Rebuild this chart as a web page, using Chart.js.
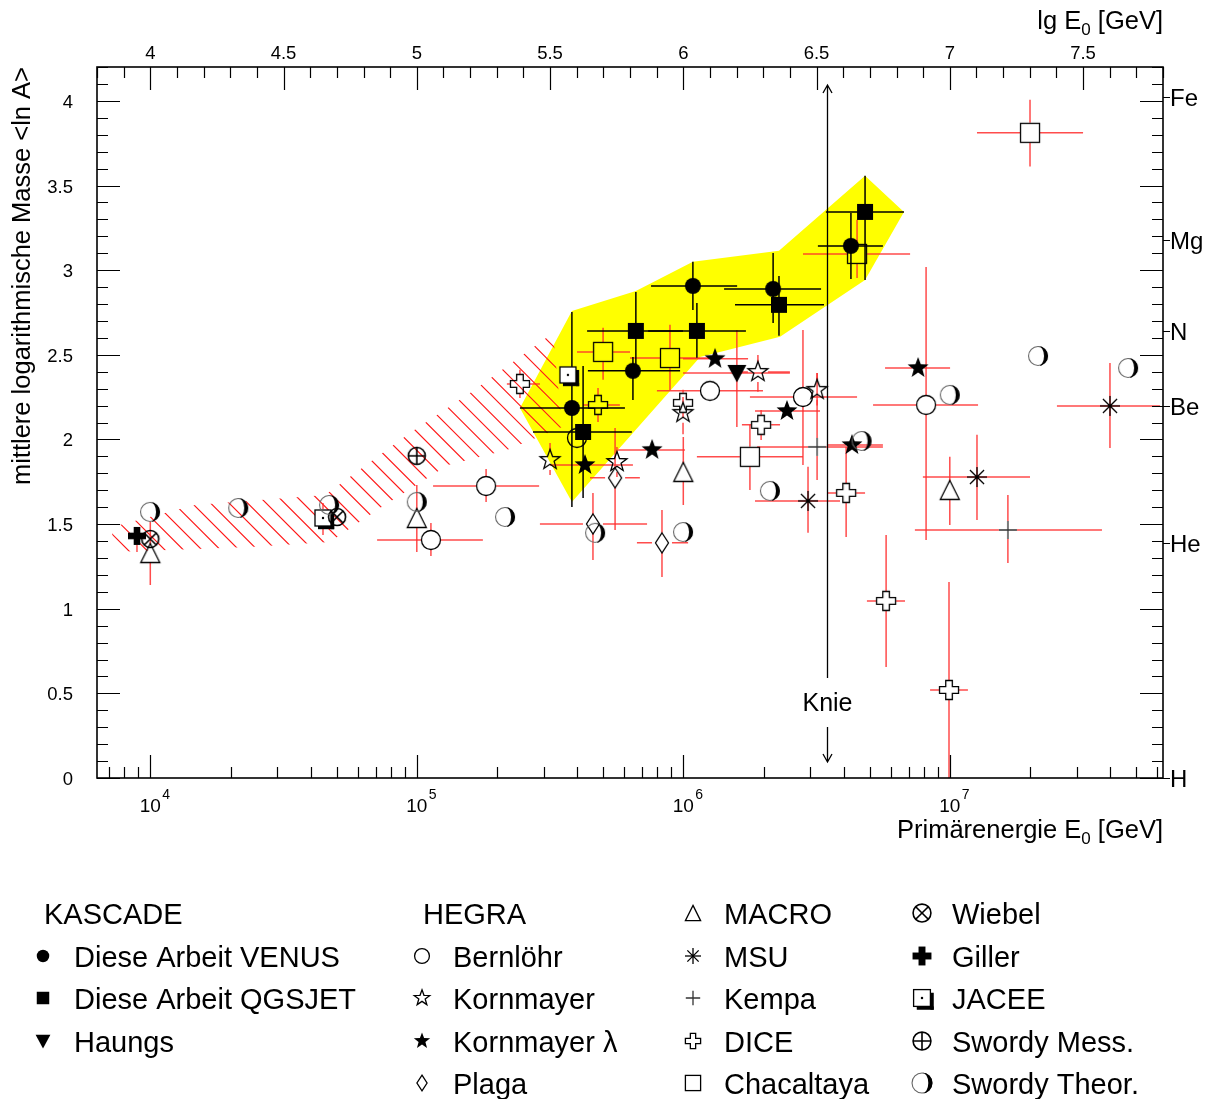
<!DOCTYPE html>
<html>
<head>
<meta charset="utf-8">
<script src="https://cdn.jsdelivr.net/npm/chart.js@4.4.1/dist/chart.umd.min.js"></script>
<style>
  html, body { margin: 0; padding: 0; background: #fff; }
  #wrap { width: 1208px; height: 1099px; }
</style>
</head>
<body>
<div id="wrap"><canvas id="c" width="1208" height="1099"></canvas></div>
<script>
// Axis ranges: lg(E0/GeV) horizontally, mean logarithmic mass <ln A> vertically
const lgRange = [3.8, 7.8];
const lnARange = [0, 4.2];
const lgTicks = [4, 4.5, 5, 5.5, 6, 6.5, 7, 7.5];
const lnATicks = [0, 0.5, 1, 1.5, 2, 2.5, 3, 3.5, 4];
const decadeTicks = [4, 5, 6, 7];
const elementNames = ['H', 'He', 'Be', 'N', 'Mg', 'Fe'];
const elementMasses = [1, 4, 9, 14, 24, 56];
const kneeLg = 6.54;

// Rows: [lg E0, <ln A>, lg E0 low, lg E0 high, <ln A> low, <ln A> high]
const venus = [
  [5.582, 2.186, 5.387, 5.781, 1.601, 2.753],
  [5.811, 2.405, 5.642, 5.988, 2.233, 2.487],
  [6.036, 2.907, 5.879, 6.202, 2.765, 3.049],
  [6.337, 2.889, 6.153, 6.517, 2.688, 3.102],
  [6.629, 3.143, 6.505, 6.749, 2.948, 3.338]
];
const qgsjet = [
  [5.624, 2.044, 5.436, 5.807, 1.654, 2.434],
  [5.822, 2.641, 5.639, 5.999, 2.399, 2.871],
  [6.051, 2.641, 5.868, 6.235, 2.482, 2.806],
  [6.359, 2.795, 6.194, 6.528, 2.612, 2.966],
  [6.682, 3.344, 6.535, 6.828, 2.942, 3.557]
];
const haungs = [
  [6.201, 2.393, 5.999, 6.400, 2.074, 2.647]
];
const bernloehr = [
  [5.601, 2.009, null, null, null, null],
  [5.053, 1.406, 4.851, 5.248, 1.312, 1.507],
  [5.260, 1.725, 5.061, 5.459, 1.631, 1.826],
  [6.100, 2.287, 5.901, 6.299, null, null],
  [6.449, 2.251, 6.250, 6.652, 1.849, 2.647],
  [6.911, 2.204, 6.712, 7.106, 1.406, 3.019]
];
const kornmayer = [
  [5.500, 1.879, null, null, 1.790, 1.979],
  [5.751, 1.867, null, null, 1.778, 1.956],
  [5.999, 2.157, null, null, 2.030, 2.250],
  [6.280, 2.399, 6.194, 6.400, 2.281, 2.499],
  [6.502, 2.293, null, null, 2.200, 2.393]
];
const kornmayerLambda = [
  [5.631, 1.849, 5.500, 5.811, null, null],
  [5.883, 1.938, 5.755, 6.006, null, null],
  [6.119, 2.476, 5.999, 6.243, null, null],
  [6.389, 2.168, 6.269, 6.513, null, null],
  [6.633, 1.967, 6.539, 6.749, null, null],
  [6.881, 2.422, 6.757, 7.001, null, null]
];
const plaga = [
  [5.661, 1.501, 5.462, 5.864, 1.288, 1.684],
  [5.744, 1.773, 5.650, 5.837, 1.465, 2.068],
  [5.920, 1.389, 5.826, 6.018, 1.188, 1.583]
];
const macro = [
  [4.000, 1.329, null, null, 1.140, 1.513],
  [5.000, 1.536, null, null, 1.335, 1.731],
  [6.000, 1.808, null, null, 1.613, 2.015],
  [7.000, 1.702, null, null, 1.495, 1.897]
];
const msu = [
  [6.468, 1.637, 6.269, 6.588, 1.448, 1.838],
  [7.102, 1.778, 6.899, 7.301, 1.524, 2.027],
  [7.601, 2.198, 7.402, 7.789, 1.950, 2.452]
];
const kempa = [
  [6.502, 1.956, 6.277, 6.749, 1.761, 2.393],
  [7.218, 1.465, 6.869, 7.571, 1.270, 1.672]
];
const dice = [
  [5.387, 2.328, 5.338, 5.462, 2.245, 2.411],
  [5.680, 2.204, 5.624, 5.762, 2.103, 2.304],
  [5.999, 2.216, null, null, 2.127, 2.293],
  [6.292, 2.086, 6.220, 6.363, 1.997, 2.174],
  [6.611, 1.684, 6.543, 6.682, 1.424, 1.956],
  [6.761, 1.046, 6.689, 6.832, 0.656, 1.436],
  [6.997, 0.520, 6.926, 7.068, 0.000, 1.158]
];
const chacaltaya = [
  [5.699, 2.517, 5.601, 5.800, 2.352, 2.659],
  [5.950, 2.481, 5.800, 6.100, 2.292, 2.677],
  [6.250, 1.897, 6.051, 6.449, 1.702, 2.086],
  [6.652, 3.096, 6.449, 6.851, 2.954, 3.297],
  [7.301, 3.811, 7.102, 7.500, 3.612, 4.006]
];
const wiebel = [
  [4.000, 1.412, null, null, null, null],
  [4.701, 1.542, null, null, null, null]
];
const giller = [
  [3.950, 1.430, null, null, 1.335, 1.483]
];
const jacee = [
  [4.648, 1.536, null, null, 1.436, 1.625],
  [5.567, 2.381, null, null, null, null]
];
const swordyMess = [
  [5.000, 1.903, null, null, null, null]
];
const swordyTheor = [
  [3.999, 1.572], [4.330, 1.595], [4.671, 1.613], [5.000, 1.631],
  [5.331, 1.542], [5.669, 1.448], [5.999, 1.453], [6.325, 1.696],
  [6.669, 1.991], [7.000, 2.263], [7.331, 2.493], [7.669, 2.422]
];

// Systematic band of this work (vertices: lg E0, <ln A>)
const systematicBand = [
  [5.582, 1.630], [5.387, 2.186], [5.582, 2.759], [5.822, 2.877],
  [6.036, 3.049], [6.359, 3.114], [6.682, 3.557], [6.828, 3.344],
  [6.682, 2.942], [6.363, 2.606], [6.063, 2.487]
];
// Direct measurements band (hatched)
const directBand = [
  [3.856, 1.483], [4.168, 1.613], [4.562, 1.660], [4.656, 1.672],
  [4.974, 2.038], [5.200, 2.275], [5.511, 2.629], [5.545, 2.074],
  [5.338, 1.938], [5.117, 1.849], [4.862, 1.595], [4.674, 1.394],
  [4.374, 1.365], [3.860, 1.335]
];

const FONT = '"Liberation Sans", Arial, Helvetica, sans-serif';
const RED = 'rgba(255,45,45,0.85)';

function drawMarker(g, kind, s) {
  g.lineWidth = 1.3; g.strokeStyle = '#000'; g.fillStyle = '#000';
  const poly = (pts) => {
    g.beginPath();
    pts.forEach((p, i) => i ? g.lineTo(p[0] * s, p[1] * s) : g.moveTo(p[0] * s, p[1] * s));
    g.closePath();
  };
  const star = (ro, ri) => {
    const pts = [];
    for (let k = 0; k < 10; k++) {
      const a = -Math.PI / 2 + k * Math.PI / 5, r = k % 2 ? ri : ro;
      pts.push([r * Math.cos(a), r * Math.sin(a)]);
    }
    poly(pts);
  };
  const circ = (r) => { g.beginPath(); g.arc(0, 0, r * s, 0, 2 * Math.PI); };
  switch (kind) {
    case 'dot': circ(8); g.fill(); break;
    case 'square': g.fillRect(-8 * s, -8 * s, 16 * s, 16 * s); break;
    case 'triDown': poly([[-9.5, -8], [9.5, -8], [0, 9.5]]); g.fill(); break;
    case 'ring': circ(9.5); g.stroke(); break;
    case 'starOpen': star(10.5, 4.3); g.stroke(); break;
    case 'starFilled': star(11, 4.6); g.fill(); break;
    case 'diamond': poly([[0, -10], [6.5, 0], [0, 10], [-6.5, 0]]); g.stroke(); break;
    case 'triUp': poly([[0, -9.5], [9.5, 9.5], [-9.5, 9.5]]); g.stroke(); break;
    case 'asterisk':
      for (let k = 0; k < 4; k++) {
        const a = k * Math.PI / 4;
        g.beginPath();
        g.moveTo(-10 * s * Math.cos(a), -10 * s * Math.sin(a));
        g.lineTo(10 * s * Math.cos(a), 10 * s * Math.sin(a));
        g.stroke();
      }
      circ(1.8); g.fill(); break;
    case 'plus':
      g.strokeStyle = '#333';
      g.beginPath(); g.moveTo(-9 * s, 0); g.lineTo(9 * s, 0); g.moveTo(0, -9 * s); g.lineTo(0, 9 * s); g.stroke();
      break;
    case 'cross': {
      const a = 3.3, b = 9.5;
      poly([[-a, -b], [a, -b], [a, -a], [b, -a], [b, a], [a, a], [a, b], [-a, b], [-a, a], [-b, a], [-b, -a], [-a, -a]]);
      g.stroke(); break;
    }
    case 'box': g.strokeRect(-9.5 * s, -9.5 * s, 19 * s, 19 * s); break;
    case 'shadowBox':
      g.fillStyle = '#fff'; g.fillRect(-8 * s, -8 * s, 16 * s, 16 * s);
      g.strokeRect(-8 * s, -8 * s, 16 * s, 16 * s);
      g.fillStyle = '#000';
      g.fillRect(8 * s, -5 * s, 3.2 * s, 16.2 * s);
      g.fillRect(-5 * s, 8 * s, 16.2 * s, 3.2 * s);
      circ(1.2); g.fill(); break;
    case 'circlePlus':
      g.lineWidth = 1.6; circ(8.5); g.stroke();
      g.beginPath(); g.moveTo(-8.5 * s, 0); g.lineTo(8.5 * s, 0); g.moveTo(0, -8.5 * s); g.lineTo(0, 8.5 * s); g.stroke();
      break;
    case 'circleX':
      g.lineWidth = 1.6; circ(8.5); g.stroke();
      g.beginPath(); g.moveTo(-6 * s, -6 * s); g.lineTo(6 * s, 6 * s); g.moveTo(6 * s, -6 * s); g.lineTo(-6 * s, 6 * s); g.stroke();
      break;
    case 'boldPlus':
      g.fillRect(-9 * s, -3.3 * s, 18 * s, 6.6 * s);
      g.fillRect(-3.3 * s, -9 * s, 6.6 * s, 18 * s);
      break;
    case 'crescent':
      g.strokeStyle = '#666'; g.lineWidth = 1.1; circ(9.5); g.stroke();
      g.beginPath();
      g.arc(0, 0, 10 * s, -Math.PI / 2, Math.PI / 2);
      g.ellipse(0, 0, 6 * s, 10 * s, 0, Math.PI / 2, -Math.PI / 2, true);
      g.fill();
      break;
  }
}

function markerCanvas(kind, s) {
  const size = Math.ceil(28 * s / 2) * 2;
  const c = document.createElement('canvas');
  c.width = size; c.height = size;
  const g = c.getContext('2d');
  g.translate(size / 2, size / 2);
  drawMarker(g, kind, s);
  return c;
}

const series = [
  { label: 'Swordy Theor.', rows: swordyTheor, marker: 'crescent', color: RED, gap: 10 },
  { label: 'Wiebel', rows: wiebel, marker: 'circleX', color: RED, gap: 9 },
  { label: 'Giller', rows: giller, marker: 'boldPlus', color: RED, gap: 9 },
  { label: 'JACEE', rows: jacee, marker: 'shadowBox', color: RED, gap: 9 },
  { label: 'Swordy Mess.', rows: swordyMess, marker: 'circlePlus', color: RED, gap: 9 },
  { label: 'Bernlöhr', rows: bernloehr, marker: 'ring', color: RED, gap: 10 },
  { label: 'Kornmayer', rows: kornmayer, marker: 'starOpen', color: RED, gap: 10 },
  { label: 'Kornmayer λ', rows: kornmayerLambda, marker: 'starFilled', color: RED, gap: 6 },
  { label: 'Plaga', rows: plaga, marker: 'diamond', color: RED, gap: 10 },
  { label: 'MACRO', rows: macro, marker: 'triUp', color: RED, gap: 9 },
  { label: 'MSU', rows: msu, marker: 'asterisk', color: RED, gap: 0 },
  { label: 'Kempa', rows: kempa, marker: 'plus', color: RED, gap: 9 },
  { label: 'DICE', rows: dice, marker: 'cross', color: RED, gap: 10 },
  { label: 'Chacaltaya', rows: chacaltaya, marker: 'box', color: RED, gap: 10 },
  { label: 'Haungs', rows: haungs, marker: 'triDown', color: RED, gap: 0 },
  { label: 'Diese Arbeit VENUS', rows: venus, marker: 'dot', color: '#000', gap: 0 },
  { label: 'Diese Arbeit QGSJET', rows: qgsjet, marker: 'square', color: '#000', gap: 0 }
];

const datasets = series.map(sr => ({
  label: sr.label,
  data: sr.rows.map(r => ({ x: r[0], y: r[1] })),
  errRows: sr.rows,
  errColor: sr.color,
  errGap: sr.gap,
  pointStyle: markerCanvas(sr.marker, 1),
  pointRadius: 10,
  pointHoverRadius: 10,
  showLine: false
}));

// Legend layout: columns of [marker, label] entries, headers without marker
const legendColumns = [
  { x: 43, tx: 74, s: 0.78, items: [[null, 'KASCADE'], ['dot', 'Diese Arbeit VENUS'], ['square', 'Diese Arbeit QGSJET'], ['triDown', 'Haungs']] },
  { x: 422, tx: 453, s: 0.78, items: [[null, 'HEGRA'], ['ring', 'Bernlöhr'], ['starOpen', 'Kornmayer'], ['starFilled', 'Kornmayer λ'], ['diamond', 'Plaga']] },
  { x: 693, tx: 724, s: 0.8, items: [['triUp', 'MACRO'], ['asterisk', 'MSU'], ['plus', 'Kempa'], ['cross', 'DICE'], ['box', 'Chacaltaya']] },
  { x: 922, tx: 952, s: 1.05, items: [['circleX', 'Wiebel'], ['boldPlus', 'Giller'], ['shadowBox', 'JACEE'], ['circlePlus', 'Swordy Mess.'], ['crescent', 'Swordy Theor.']] }
];

function font(px) { return px + 'px ' + FONT; }

function richText(ctx, parts, x, y, align) {
  let w = 0;
  parts.forEach(p => { ctx.font = font(p[1]); w += ctx.measureText(p[0]).width; });
  let cx = align === 'right' ? x - w : (align === 'center' ? x - w / 2 : x);
  ctx.textAlign = 'left';
  parts.forEach(p => {
    ctx.font = font(p[1]);
    ctx.fillText(p[0], cx, y + (p[2] || 0));
    cx += ctx.measureText(p[0]).width;
  });
}

function pathFrom(ctx, xs, ys, pts) {
  ctx.beginPath();
  pts.forEach((p, i) => {
    const px = xs.getPixelForValue(p[0]), py = ys.getPixelForValue(p[1]);
    i ? ctx.lineTo(px, py) : ctx.moveTo(px, py);
  });
  ctx.closePath();
}

const overlay = {
  id: 'overlay',
  beforeDatasetsDraw(chart) {
    const ctx = chart.ctx, xs = chart.scales.x, ys = chart.scales.y, a = chart.chartArea;
    ctx.save();
    // yellow systematic band
    pathFrom(ctx, xs, ys, systematicBand);
    ctx.fillStyle = '#ffff00';
    ctx.fill();
    // hatched band of direct measurements
    ctx.save();
    pathFrom(ctx, xs, ys, directBand);
    ctx.clip();
    ctx.strokeStyle = '#ff1a1a';
    ctx.lineWidth = 1.2;
    ctx.beginPath();
    for (let c = a.left - 600; c < a.right; c += 18.5) {
      ctx.moveTo(c, a.top);
      ctx.lineTo(c + (a.bottom - a.top), a.bottom);
    }
    ctx.stroke();
    ctx.restore();
    // error bars: literature first, this work on top
    ['red', 'black'].forEach(pass => {
      chart.data.datasets.forEach(ds => {
        if ((ds.errColor === '#000') !== (pass === 'black')) return;
        ctx.strokeStyle = ds.errColor;
        ctx.lineWidth = 1.5;
        ds.errRows.forEach(r => {
          const px = xs.getPixelForValue(r[0]), py = ys.getPixelForValue(r[1]), g = ds.errGap;
          ctx.beginPath();
          if (r[2] != null) { const q = xs.getPixelForValue(r[2]); if (q < px - g) { ctx.moveTo(q, py); ctx.lineTo(px - g, py); } }
          if (r[3] != null) { const q = xs.getPixelForValue(r[3]); if (q > px + g) { ctx.moveTo(px + g, py); ctx.lineTo(q, py); } }
          if (r[4] != null) { const q = ys.getPixelForValue(r[4]); if (q > py + g) { ctx.moveTo(px, py + g); ctx.lineTo(px, q); } }
          if (r[5] != null) { const q = ys.getPixelForValue(r[5]); if (q < py - g) { ctx.moveTo(px, q); ctx.lineTo(px, py - g); } }
          ctx.stroke();
        });
      });
    });
    // knee marker
    const kx = Math.round(xs.getPixelForValue(kneeLg)) + 0.5;
    ctx.strokeStyle = '#000';
    ctx.lineWidth = 1.3;
    ctx.beginPath();
    ctx.moveTo(kx, a.top + 18); ctx.lineTo(kx, a.bottom - 100);
    ctx.moveTo(kx - 4.5, a.top + 26); ctx.lineTo(kx, a.top + 18); ctx.lineTo(kx + 4.5, a.top + 26);
    ctx.moveTo(kx, a.bottom - 51); ctx.lineTo(kx, a.bottom - 16);
    ctx.moveTo(kx - 4.5, a.bottom - 24); ctx.lineTo(kx, a.bottom - 16); ctx.lineTo(kx + 4.5, a.bottom - 24);
    ctx.stroke();
    ctx.fillStyle = '#000';
    ctx.font = font(25);
    ctx.textAlign = 'center';
    ctx.textBaseline = 'alphabetic';
    ctx.fillText('Knie', kx, a.bottom - 67);
    ctx.restore();
  },
  afterDatasetsDraw(chart) {
    const ctx = chart.ctx, xs = chart.scales.x, xe = chart.scales.xE, ys = chart.scales.y, a = chart.chartArea;
    ctx.save();
    ctx.strokeStyle = '#000';
    ctx.fillStyle = '#000';
    ctx.lineWidth = 1.2;
    ctx.beginPath();
    // left / right ticks every 0.1 in <ln A>
    for (let i = 0; i <= 42; i++) {
      const py = Math.round(ys.getPixelForValue(i / 10)) + 0.5;
      const len = i % 5 === 0 ? 23 : 11;
      ctx.moveTo(a.left, py); ctx.lineTo(a.left + len, py);
      ctx.moveTo(a.right, py); ctx.lineTo(a.right - len, py);
    }
    // top ticks every 0.1 in lg E0
    for (let i = 38; i <= 78; i++) {
      const px = Math.round(xs.getPixelForValue(i / 10)) + 0.5;
      const len = i % 5 === 0 ? 23 : 11;
      ctx.moveTo(px, a.top); ctx.lineTo(px, a.top + len);
    }
    // bottom logarithmic ticks
    for (let n = 3; n <= 7; n++) {
      for (let m = 1; m <= 9; m++) {
        const e = m * Math.pow(10, n);
        if (e < xe.min || e > xe.max) continue;
        const px = Math.round(xe.getPixelForValue(e)) + 0.5;
        const len = m === 1 ? 23 : 11;
        ctx.moveTo(px, a.bottom); ctx.lineTo(px, a.bottom - len);
      }
    }
    // element ticks outside the right axis
    elementMasses.forEach(m => {
      const py = Math.round(ys.getPixelForValue(Math.log(m))) + 0.5;
      ctx.moveTo(a.right, py); ctx.lineTo(a.right + 7, py);
    });
    ctx.stroke();
    ctx.lineWidth = 1.6;
    ctx.strokeRect(a.left, a.top, a.right - a.left, a.bottom - a.top);

    // tick labels
    ctx.font = font(18.5);
    ctx.textBaseline = 'alphabetic';
    ctx.textAlign = 'right';
    lnATicks.forEach(v => ctx.fillText(String(v), a.left - 24, ys.getPixelForValue(v) + 7));
    ctx.textAlign = 'center';
    lgTicks.forEach(v => ctx.fillText(String(v), xs.getPixelForValue(v), a.top - 8));
    decadeTicks.forEach(n => {
      const px = xe.getPixelForValue(Math.pow(10, n));
      ctx.font = font(19);
      ctx.textAlign = 'center';
      ctx.fillText('10', px, a.bottom + 34);
      ctx.font = font(14);
      ctx.textAlign = 'left';
      ctx.fillText(String(n), px + 12, a.bottom + 21);
    });
    ctx.font = font(24);
    ctx.textAlign = 'left';
    elementNames.forEach((nm, i) => ctx.fillText(nm, a.right + 7, ys.getPixelForValue(Math.log(elementMasses[i])) + 9));

    // axis titles
    richText(ctx, [['lg E', 25.5], ['0', 17, 6], [' [GeV]', 25.5]], a.right, 29, 'right');
    richText(ctx, [['Primärenergie E', 25.5], ['0', 17, 6], [' [GeV]', 25.5]], a.right, 838, 'right');
    ctx.save();
    ctx.translate(30, a.top);
    ctx.rotate(-Math.PI / 2);
    ctx.font = font(25.5);
    ctx.textAlign = 'right';
    ctx.fillText('mittlere logarithmische Masse <ln A>', 0, 0);
    ctx.restore();

    // legend
    const rowY = [913, 956, 998, 1041, 1083];
    legendColumns.forEach(col => {
      col.items.forEach((it, i) => {
        const y = rowY[i];
        if (it[0]) {
          const mc = markerCanvas(it[0], col.s);
          ctx.drawImage(mc, Math.round(col.x - mc.width / 2), Math.round(y - mc.height / 2));
          ctx.font = font(29);
          ctx.textAlign = 'left';
          ctx.fillText(it[1], col.tx, y + 11);
        } else {
          ctx.font = font(29);
          ctx.textAlign = 'left';
          ctx.fillText(it[1], col.x + 1, y + 11);
        }
      });
    });
    ctx.restore();
  }
};

new Chart(document.getElementById('c'), {
  type: 'scatter',
  data: { datasets },
  options: {
    responsive: false,
    animation: false,
    devicePixelRatio: 1,
    layout: { padding: { left: 97, right: 45, top: 67, bottom: 321 } },
    plugins: { legend: { display: false }, tooltip: { enabled: false } },
    scales: {
      x: { type: 'linear', min: lgRange[0], max: lgRange[1], display: false },
      xE: { type: 'logarithmic', axis: 'x', min: Math.pow(10, lgRange[0]), max: Math.pow(10, lgRange[1]), display: false },
      y: { type: 'linear', min: lnARange[0], max: lnARange[1], display: false }
    }
  },
  plugins: [overlay]
});
</script>
</body>
</html>
